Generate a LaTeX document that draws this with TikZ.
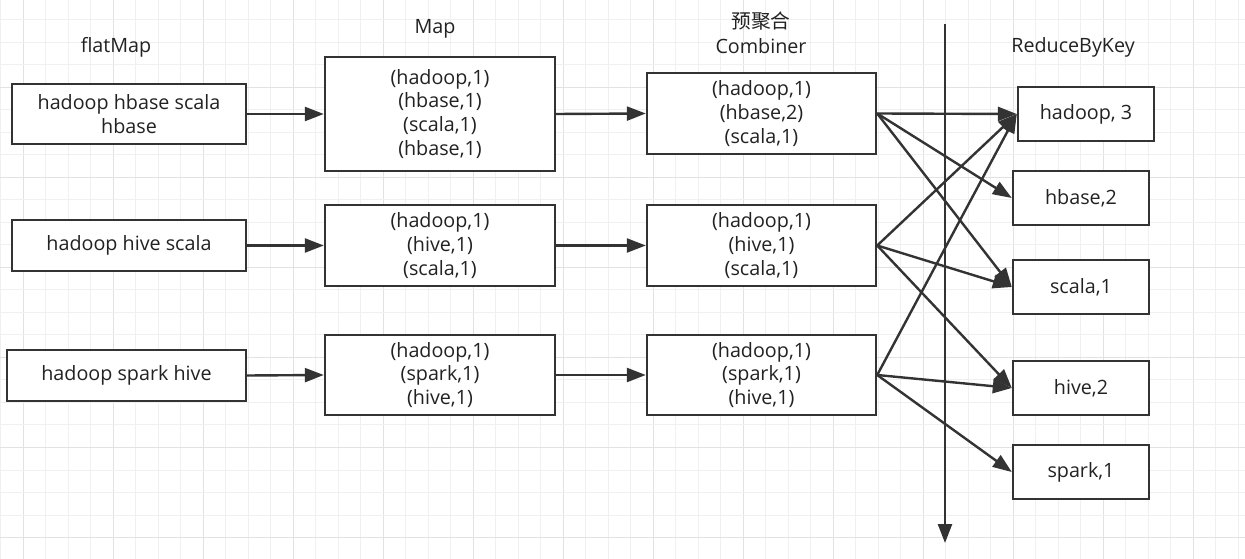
\documentclass[tikz,border=0pt]{standalone}
\usepackage{fontspec}
\setmainfont{Open Sans}
\newfontfamily\cjk{Noto Sans CJK SC}
\usetikzlibrary{arrows.meta}
\definecolor{ink}{HTML}{333333}
\definecolor{txt}{HTML}{222222}
\definecolor{gridminor}{HTML}{F0F0F0}
\definecolor{gridmajor}{HTML}{E2E2E2}
\tikzset{
  box/.style={draw=ink, line width=2.4bp, fill=white, inner sep=0pt, align=center,
    font=\fontsize{19.8}{24}\selectfont, text=txt},
  lab/.style={inner sep=0pt, align=center, font=\fontsize{19.8}{24}\selectfont, text=txt},
  conn/.style={draw=ink, line width=2.4bp, -{Triangle[length=19bp,width=14bp]}},
}
\begin{document}
\begin{tikzpicture}[x=1bp,y=-1bp]
\useasboundingbox (0,0) rectangle (1245,559);
\fill[white] (0,0) rectangle (1245,559);
% grid
\foreach \i in {0,...,55} {
  \pgfmathsetmacro\xx{0.8+22.5*\i}
  \pgfmathtruncatemacro\mm{mod(\i,4)}
  \ifnum\mm=1 \draw[gridmajor, line width=1bp] (\xx,0) -- (\xx,559);
  \else \draw[gridminor, line width=1bp] (\xx,0) -- (\xx,559); \fi
}
\foreach \j in {0,...,24} {
  \pgfmathsetmacro\yy{-2.5+22.5*\j}
  \pgfmathtruncatemacro\mm{mod(\j,4)}
  \ifnum\mm=0 \draw[gridmajor, line width=1bp] (0,\yy) -- (1245,\yy);
  \else \draw[gridminor, line width=1bp] (0,\yy) -- (1245,\yy); \fi
}
% labels
\node[lab] (lflat) at (116,47) {flatMap};
\node[lab] (lmap) at (435,29) {Map};
\node[lab] (lpre) at (761,21) {\cjk 预聚合};
\node[lab] (lcomb) at (761,46) {Combiner};
\node[lab] (lred) at (1073,47) {ReduceByKey};
% flatMap boxes
\node[box, minimum width=234bp, minimum height=60bp] (f1) at (129,114) {hadoop hbase scala\\hbase};
\node[box, minimum width=234bp, minimum height=51bp] (f2) at (129,245.5) {hadoop hive scala};
\node[box, minimum width=239bp, minimum height=51bp] (f3) at (126.5,375.5) {hadoop spark hive};
% Map boxes
\node[box, minimum width=230bp, minimum height=114bp] (m1) at (440,114) {(hadoop,1)\\(hbase,1)\\(scala,1)\\(hbase,1)};
\node[box, minimum width=230bp, minimum height=81bp] (m2) at (440,245.5) {(hadoop,1)\\(hive,1)\\(scala,1)};
\node[box, minimum width=230bp, minimum height=80bp] (m3) at (440,375) {(hadoop,1)\\(spark,1)\\(hive,1)};
% Combiner boxes
\node[box, minimum width=229bp, minimum height=81bp] (c1) at (761.5,113.5) {(hadoop,1)\\(hbase,2)\\(scala,1)};
\node[box, minimum width=229bp, minimum height=81bp] (c2) at (761.5,245.5) {(hadoop,1)\\(hive,1)\\(scala,1)};
\node[box, minimum width=229bp, minimum height=80bp] (c3) at (761.5,375) {(hadoop,1)\\(spark,1)\\(hive,1)};
% Reduce boxes
\node[box, minimum width=136bp, minimum height=54bp] (r1) at (1086,114) {hadoop, 3};
\node[box, minimum width=136bp, minimum height=54bp] (r2) at (1081,198) {hbase,2};
\node[box, minimum width=136bp, minimum height=54bp] (r3) at (1081,287) {scala,1};
\node[box, minimum width=136bp, minimum height=54bp] (r4) at (1081,388) {hive,2};
\node[box, minimum width=136bp, minimum height=54bp] (r5) at (1081,472) {spark,1};
% vertical separator
\coordinate (vtop) at (945,24);
\coordinate (vbot) at (945,543);
\draw[conn] (vtop) -- (vbot);
% flatMap -> Map
\draw[conn] (f1.east) -- (m1.west);
\draw[conn] (f2.east) -- (m2.west);
\draw[conn] (f3.east) -- (m3.west);
% Map -> Combiner
\draw[conn] (m1.east) -- (c1.west);
\draw[conn] (m2.east) -- (c2.west);
\draw[conn] (m3.east) -- (c3.west);
% Combiner -> Reduce
\draw[conn] (c1.east) -- (r1.west);
\draw[conn] (c1.east) -- (r2.west);
\draw[conn] (c1.east) -- (r3.west);
\draw[conn] (c2.east) -- (r1.west);
\draw[conn] (c2.east) -- (r3.west);
\draw[conn] (c2.east) -- (r4.west);
\draw[conn] (c3.east) -- (r1.west);
\draw[conn] (c3.east) -- (r4.west);
\draw[conn] (c3.east) -- (r5.west);
\end{tikzpicture}
\end{document}
